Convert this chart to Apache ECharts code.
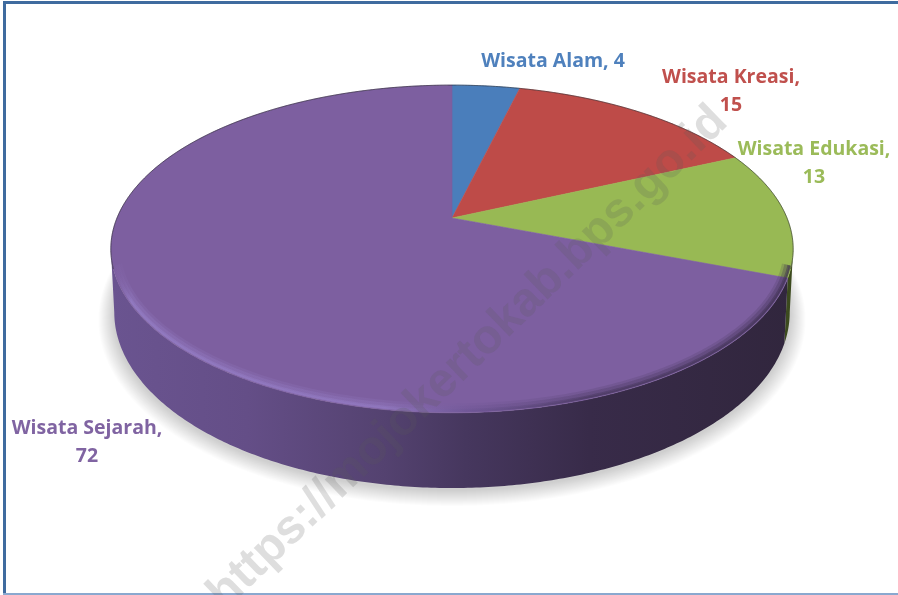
<!DOCTYPE html>
<html>
<head>
<meta charset="utf-8">
<style>
  html, body { margin: 0; padding: 0; background: #fff; overflow: hidden; }
  #chart { width: 898px; height: 595px; }
</style>
<script src="https://cdn.jsdelivr.net/npm/echarts@6/dist/echarts.min.js"></script>
</head>
<body>
<div id="chart"></div>
<script>
// data
const categories = ["Wisata Alam", "Wisata Kreasi", "Wisata Edukasi", "Wisata Sejarah"];
const values = [4, 15, 13, 72];
const watermark = "https://mojokertokab.bps.go.id";

// colours per slice
const topColors = ["#4a7ebb", "#be4b48", "#98b954", "#7d5fa0"];
const labelColors = ["#4f81bd", "#c0504d", "#9bbb59", "#8064a2"];

// label centres, "\n" or " " between name and value
const labelLayout = [
  { x: 553, y: 61, sep: " " },
  { x: 731, y: 91, sep: "\n" },
  { x: 814, y: 163, sep: "\n" },
  { x: 87, y: 442, sep: "\n" },
];

// pie geometry: a tilted disc in perspective
const CX = 452, CY = 218, A = 335, H = 158, K = 0.189, THICK = 61;
const total = values.reduce((a, b) => a + b, 0);
const SIDE_R = Math.PI - Math.acos(K); // where the disc is widest
const SIDE_L = 2 * Math.PI - SIDE_R;

const scaleAt = (t) => 1 / (1 + K * Math.cos(t));
const topPoint = (t) => {
  const s = scaleAt(t);
  return [CX + A * Math.sin(t) * s, CY - H * Math.cos(t) * s];
};
const bottomPoint = (t) => {
  const p = topPoint(t);
  return [CX + (p[0] - CX) * 0.99, p[1] + THICK * scaleAt(t)];
};
// same curve pulled in a little, for the soft rim on the top face
const rimPoint = (inset) => (t) => {
  const p = topPoint(t);
  return [CX + (p[0] - CX) * (1 - inset / 340), CY + (p[1] - CY) * (1 - inset / 195)];
};
const arc = (from, to, fn) => {
  const pts = [];
  const n = Math.max(2, Math.ceil(Math.abs(to - from) / 0.01));
  for (let i = 0; i <= n; i++) pts.push(fn(from + ((to - from) * i) / n));
  return pts;
};
const sliceAngles = (idx, val) => {
  let before = 0;
  for (let i = 0; i < idx; i++) before += values[i];
  return [(before / total) * 2 * Math.PI, ((before + val) / total) * 2 * Math.PI];
};
const hGrad = (stops) => ({
  type: "linear", x: 111, y: 0, x2: 794, y2: 0, global: true,
  colorStops: stops.map((s) => ({ offset: s[0], color: s[1] })),
});

const greenWall = hGrad([[0, "#4d5f28"], [1, "#3c4a1e"]]);
const purpleWall = hGrad([[0, "#6a5490"], [0.2, "#644e87"], [0.4, "#544270"], [0.52, "#46375e"], [0.7, "#382b49"], [1, "#31263d"]]);

// soft ground shadow: stacked translucent copies of the lower outline
const shadowLayers = () => {
  const layers = [];
  for (let i = 16; i >= 1; i--) {
    const grow = (p) => [CX + (p[0] - CX) * (1 + i / 340), p[1] + (p[1] - CY) * (i / 270) + 2];
    layers.push({
      type: "polygon",
      shape: { points: arc(SIDE_R - 0.35, SIDE_L + 0.35, (t) => grow(bottomPoint(t))) },
      style: { fill: "rgba(0,0,0,0.011)" },
    });
  }
  return layers;
};

// shadow and side wall
const renderWall = (params, api) => {
  const [a0, a1] = sliceAngles(params.dataIndex, api.value(0));
  const children = params.dataIndex === 0 ? shadowLayers() : [];
  const from = Math.max(a0, SIDE_R), to = Math.min(a1, SIDE_L);
  if (to > from) {
    const points = arc(from, to, topPoint).concat(arc(to, from, bottomPoint));
    children.push({
      type: "polygon",
      shape: { points },
      style: { fill: params.dataIndex === 2 ? greenWall : purpleWall },
    });
  }
  return { type: "group", children };
};

// top face
const renderTop = (params, api) => {
  const i = params.dataIndex;
  const [a0, a1] = sliceAngles(i, api.value(0));
  const points = [[CX, CY]].concat(arc(a0, a1, topPoint));
  return {
    type: "polygon",
    shape: { points },
    style: { fill: topColors[i], stroke: topColors[i], lineWidth: 0.6 },
  };
};

// soft rim on the front edge, thin dark edge at the back
const renderRim = (params) => {
  if (params.dataIndex !== 0) return null;
  const back = arc(SIDE_L - 0.12, SIDE_R + 2 * Math.PI + 0.12, topPoint);
  const rimStroke = (alpha) => hGrad([
    [0, `rgba(125,95,160,0)`],
    [0.03, `rgba(150,128,200,${alpha})`],
    [0.4, `rgba(148,124,196,${alpha})`],
    [0.52, `rgba(110,86,150,${alpha})`],
    [0.7, `rgba(70,54,92,${alpha})`],
    [1, `rgba(60,46,78,${alpha})`],
  ]);
  const children = [];
  [[6, 7, 0.18], [4.5, 5, 0.28], [2.5, 3, 0.45], [1.5, 2, 0.6]].forEach(([inset, width, alpha]) => {
    children.push({
      type: "polyline",
      shape: { points: arc(SIDE_R + 0.1, SIDE_L - 0.1, rimPoint(inset)) },
      style: { fill: "none", lineWidth: width, stroke: rimStroke(alpha) },
    });
  });
  children.push({
    type: "polyline",
    shape: { points: back },
    style: { fill: "none", lineWidth: 1, stroke: "rgba(35,35,40,0.55)" },
  });
  return { type: "group", children };
};

const renderLabel = (params, api) => {
  const i = params.dataIndex;
  const l = labelLayout[i];
  return {
    type: "text",
    x: l.x,
    y: l.y,
    style: {
      text: categories[i] + "," + l.sep + api.value(0),
      fill: labelColors[i],
      font: "bold 19.5px 'Open Sans'",
      align: "center",
      verticalAlign: "middle",
      lineHeight: 28,
    },
  };
};

const chart = echarts.init(document.getElementById("chart"), null, { renderer: "canvas" });
const seriesOf = (renderItem, z) => ({
  type: "custom", coordinateSystem: "none", data: values, renderItem, z, silent: true, animation: false,
});

chart.setOption({
  backgroundColor: "#fff",
  animation: false,
  series: [
    seriesOf(renderWall, 2),
    seriesOf(renderTop, 3),
    seriesOf(renderRim, 4),
    seriesOf(renderLabel, 5),
  ],
  graphic: {
    elements: [
      { type: "rect", z: 50, silent: true, shape: { x: 4.5, y: 2.5, width: 920, height: 620 }, style: { fill: "none", stroke: "#3f6b9f", lineWidth: 3 } },
      { type: "line", z: 50, silent: true, shape: { x1: 3, y1: 594, x2: 898, y2: 594 }, style: { stroke: "#8aa8cf", lineWidth: 2 } },
      {
        type: "text", z: 60, silent: true, x: 468, y: 358, rotation: (44 * Math.PI) / 180,
        style: {
          text: watermark, font: "bold 48px 'Liberation Sans'", align: "center", verticalAlign: "middle",
          fill: "rgba(90,90,90,0.2)",
        },
      },
    ],
  },
});
</script>
</body>
</html>
